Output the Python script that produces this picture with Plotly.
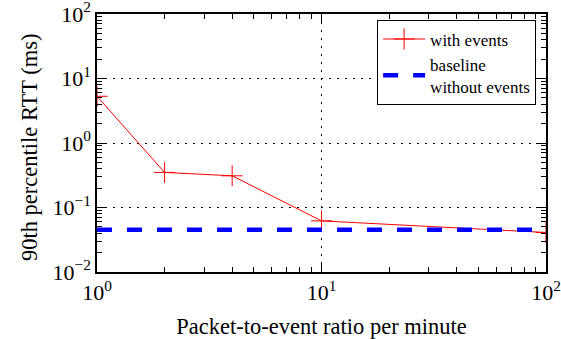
import plotly.graph_objects as go

ratio = [1, 2, 4, 10, 100]
rtt_with_events = [5.3, 0.35, 0.31, 0.062, 0.041]
baseline_x = [1, 100]
baseline_rtt = [0.045, 0.045]

x_tickvals = [1, 10, 100]
x_ticktext = ["10<sup>0</sup>", "10<sup>1</sup>", "10<sup>2</sup>"]
y_tickvals = [0.01, 0.1, 1, 10, 100]
y_ticktext = ["10<sup>−2</sup>", "10<sup>−1</sup>", "10<sup>0</sup>", "10<sup>1</sup>", "10<sup>2</sup>"]
x_minor_ticks = [m * 10 ** e for e in range(0, 2) for m in range(2, 10)]
y_minor_ticks = [m * 10 ** e for e in range(-2, 2) for m in range(2, 10)]

font_family = "Liberation Serif, Times New Roman, serif"

fig = go.Figure()
fig.add_trace(go.Scatter(
    x=ratio, y=rtt_with_events, mode="lines+markers", name="with events",
    line=dict(color="red", width=1),
    marker=dict(symbol="cross-thin", size=15, line=dict(color="red", width=1), color="red"),
))
fig.add_trace(go.Scatter(
    x=baseline_x, y=baseline_rtt, mode="lines", name="baseline<br>without events",
    line=dict(color="blue", width=4.5, dash="15px,15px"),
))
# invisible helper traces so the extra tick axes are drawn
for xa, ya in [("x2", "y3"), ("x3", "y2"), ("x4", "y4")]:
    fig.add_trace(go.Scatter(
        x=baseline_x, y=baseline_rtt, mode="lines", xaxis=xa, yaxis=ya,
        line=dict(color="rgba(0,0,0,0)", width=0), showlegend=False, hoverinfo="skip",
    ))

main_common = dict(
    type="log", ticks="inside", ticklen=10, tickcolor="black", tickwidth=1,
    zeroline=False, automargin=False, ticklabeloverflow="allow",
    showline=True, linecolor="black", linewidth=1.5, mirror=True,
    showgrid=True, gridcolor="black", griddash="2px,6px", gridwidth=1,
    tickfont=dict(family=font_family, size=22, color="black"),
)
overlay_common = dict(
    type="log", ticks="inside", tickcolor="black", tickwidth=1, tickmode="array",
    zeroline=False, automargin=False, showticklabels=False, showgrid=False, showline=False,
)

fig.update_layout(
    xaxis=dict(**main_common, range=[0, 2], tickvals=x_tickvals, ticktext=x_ticktext,
               title=dict(text="Packet-to-event ratio per minute",
                          font=dict(family=font_family, size=22.5, color="black"), standoff=19)),
    yaxis=dict(**main_common, range=[-2, 2], tickvals=y_tickvals, ticktext=y_ticktext),
    # top edge: major ticks (x2) and minor ticks (x3)
    xaxis2=dict(**overlay_common, range=[0, 2], tickvals=x_tickvals, ticklen=10,
                overlaying="x", side="top", anchor="y"),
    xaxis3=dict(**overlay_common, range=[0, 2], tickvals=x_minor_ticks, ticklen=5,
                overlaying="x", side="top", anchor="y"),
    # bottom edge minor ticks
    xaxis4=dict(**overlay_common, range=[0, 2], tickvals=x_minor_ticks, ticklen=5,
                overlaying="x", side="bottom", anchor="y"),
    # right edge: major ticks (y2) and minor ticks (y3)
    yaxis2=dict(**overlay_common, range=[-2, 2], tickvals=y_tickvals, ticklen=10,
                overlaying="y", side="right", anchor="x"),
    yaxis3=dict(**overlay_common, range=[-2, 2], tickvals=y_minor_ticks, ticklen=5,
                overlaying="y", side="right", anchor="x"),
    # left edge minor ticks
    yaxis4=dict(**overlay_common, range=[-2, 2], tickvals=y_minor_ticks, ticklen=5,
                overlaying="y", side="left", anchor="x"),
)

fig.add_annotation(
    text="90th percentile RTT (ms)", xref="paper", yref="paper", x=-0.15, y=0.483,
    xanchor="center", yanchor="middle", textangle=-90, showarrow=False,
    font=dict(family=font_family, size=22.5, color="black"),
)

fig.update_layout(
    width=561, height=339,
    margin=dict(l=97, r=15, t=14, b=67),
    plot_bgcolor="white", paper_bgcolor="white",
    font=dict(family=font_family, color="black"),
    legend=dict(x=0.978, y=0.975, xanchor="right", yanchor="top",
                bordercolor="black", borderwidth=1, bgcolor="white",
                font=dict(family=font_family, size=17, color="black"),
                itemwidth=42, tracegroupgap=0),
    showlegend=True,
)

fig.write_html("out.html", config={"displayModeBar": False},
               post_script="document.body.style.margin='0';")
